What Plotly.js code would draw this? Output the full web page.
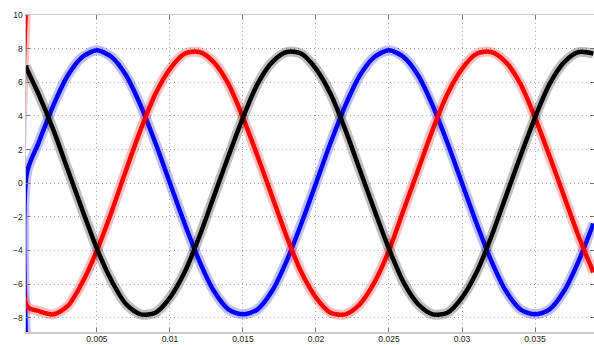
<!DOCTYPE html>
<html>
<head>
<meta charset="utf-8">
<script src="https://cdn.plot.ly/plotly-3.0.1.min.js"></script>
<style>html,body{margin:0;padding:0;background:#fff;}#chart{width:594px;height:345px;}</style>
</head>
<body>
<div id="chart"></div>
<script>
// time (s)
const time = [0.00014, 0.0002, 0.001, 0.002, 0.003, 0.004, 0.005, 0.006, 0.007, 0.008, 0.009, 0.010,
  0.011, 0.012, 0.013, 0.014, 0.015, 0.016, 0.017, 0.018, 0.019, 0.020,
  0.021, 0.022, 0.023, 0.024, 0.025, 0.026, 0.027, 0.028, 0.029, 0.030,
  0.031, 0.032, 0.033, 0.034, 0.035, 0.036, 0.037, 0.038, 0.039];
// phase currents
const phaseBlue = [-9.5, 0.6, 2.4, 4.6, 6.4, 7.5, 7.9, 7.5, 6.4, 4.6, 2.4, 0.0,
  -2.4, -4.6, -6.4, -7.5, -7.8, -7.5, -6.4, -4.6, -2.4, 0.0,
  2.4, 4.6, 6.4, 7.5, 7.9, 7.5, 6.4, 4.6, 2.4, 0.0,
  -2.4, -4.6, -6.4, -7.5, -7.8, -7.5, -6.4, -4.6, -2.4];
const phaseRed = [10.5, -7.3, -7.6, -7.8, -7.3, -5.9, -4.0, -1.7, 0.8, 3.2, 5.3, 6.8,
  7.7, 7.8, 7.2, 5.9, 3.9, 1.6, -0.8, -3.2, -5.3, -6.8,
  -7.7, -7.8, -7.2, -5.9, -4.0, -1.6, 0.8, 3.2, 5.3, 6.8,
  7.7, 7.8, 7.2, 5.9, 3.9, 1.6, -0.8, -3.2, -5.3];
const phaseBlack = [7.0, 6.8, 5.3, 3.2, 0.8, -1.6, -3.9, -5.8, -7.2, -7.8, -7.7, -6.8,
  -5.3, -3.2, -0.8, 1.6, 3.9, 5.9, 7.2, 7.8, 7.7, 6.8,
  5.3, 3.2, 0.8, -1.6, -3.9, -5.9, -7.2, -7.8, -7.7, -6.8,
  -5.3, -3.2, -0.8, 1.6, 3.9, 5.9, 7.2, 7.8, 7.7];
const xTickVals = [0.005, 0.01, 0.015, 0.02, 0.025, 0.03, 0.035];
const xTickText = ['0.005', '0.01', '0.015', '0.02', '0.025', '0.03', '0.035'];
const yTickVals = [-8, -6, -4, -2, 0, 2, 4, 6, 8, 10];

const series = [
  {y: phaseBlue, color: '#0000ff'},
  {y: phaseRed, color: '#ff0000'},
  {y: phaseBlack, color: '#000000'}
];
const traces = [];
series.forEach(s => {
  traces.push({x: time, y: s.y, type: 'scatter', mode: 'lines',
    line: {color: s.color, width: 10, shape: 'spline', smoothing: 0.8}, opacity: 0.25, hoverinfo: 'skip'});
  traces.push({x: time, y: s.y, type: 'scatter', mode: 'lines',
    line: {color: s.color, width: 4.5, shape: 'spline', smoothing: 0.8}});
});

const axisCommon = {
  showline: true, linecolor: '#c8c8c8', linewidth: 1.5, mirror: 'ticks',
  ticks: 'inside', ticklen: 4, tickcolor: '#777', tickwidth: 1,
  showgrid: true, gridcolor: '#a8a8a8', griddash: '1px,3px', gridwidth: 1,
  zeroline: false, automargin: false,
  tickfont: {family: 'Liberation Sans, Arial, sans-serif', size: 8.5, color: '#222'}
};
const layout = {
  width: 594, height: 345,
  margin: {l: 26, r: 0, t: 15, b: 13},
  paper_bgcolor: '#fff', plot_bgcolor: '#fff',
  showlegend: false,
  xaxis: Object.assign({}, axisCommon, {range: [0.00014, 0.03904], tickvals: xTickVals, ticktext: xTickText, ticklabelstandoff: -2}),
  yaxis: Object.assign({}, axisCommon, {range: [-8.85, 10], tickvals: yTickVals})
};
Plotly.newPlot('chart', traces, layout, {staticPlot: true, displayModeBar: false});
</script>
</body>
</html>
